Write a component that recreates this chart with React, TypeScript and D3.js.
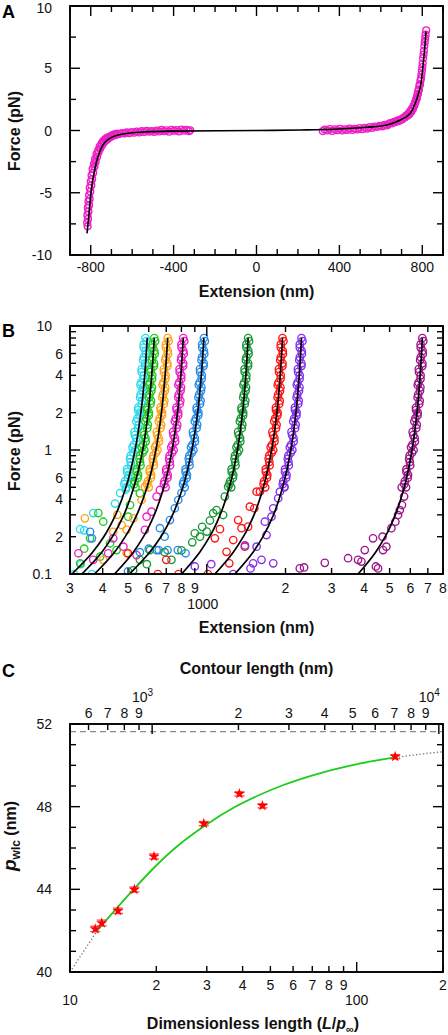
import React from "react";
import * as d3 from "d3";

// ================= Panel A : symmetric force–extension =================
const A_FIT_EXT = [-818, -808, -801, -793, -781, -765, -741, -708, -644, -547, -418, 0, 210, 371, 533, 629, 694, 742, 766, 782, 794, 803, 811, 818];
const A_FIT_F = [-8.26, -6.65, -5.32, -4.24, -3.17, -2.1, -1.16, -0.63, -0.28, -0.12, -0.05, 0, 0.04, 0.1, 0.26, 0.44, 0.84, 1.38, 2.18, 2.99, 3.79, 5.12, 6.47, 7.94];

const A_DATA_LEFT: [number, number][] = [
  [-815, -7.7], [-817, -7.4], [-813, -7.1], [-816, -6.8], [-811, -6.5], [-814, -6.2], [-808, -6.0], [-811, -5.7],
  [-805, -5.5], [-808, -5.2], [-802, -4.9], [-805, -4.6], [-797, -4.4], [-800, -4.1], [-793, -3.9], [-796, -3.6],
  [-788, -3.4], [-791, -3.1], [-782, -2.9], [-785, -2.7], [-776, -2.5], [-779, -2.3], [-769, -2.1], [-772, -1.9],
  [-762, -1.75], [-764, -1.6], [-754, -1.45], [-757, -1.3], [-746, -1.2], [-748, -1.05], [-737, -0.98], [-740, -0.85],
  [-727, -0.8], [-730, -0.7], [-717, -0.68], [-720, -0.58], [-706, -0.55], [-708, -0.48], [-695, -0.45], [-697, -0.38],
  [-684, -0.38], [-686, -0.3], [-672, -0.32], [-674, -0.25], [-662, -0.28], [-650, -0.2], [-638, -0.25], [-626, -0.15],
  [-614, -0.22], [-602, -0.12], [-590, -0.18], [-578, -0.08], [-566, -0.16], [-554, -0.05], [-542, -0.13], [-530, -0.02],
  [-518, -0.1], [-506, -0.04], [-494, -0.12], [-482, 0.0], [-470, -0.08], [-458, 0.05], [-446, -0.06], [-434, 0.02],
  [-422, -0.1], [-410, 0.06], [-398, -0.03], [-386, 0.04], [-374, -0.08], [-362, 0.08], [-350, -0.02], [-338, 0.05],
  [-326, -0.06], [-320, 0.02],
];
const A_DATA_RIGHT: [number, number][] = [
  [320, -0.05], [330, 0.08], [342, 0.0], [354, 0.12], [366, -0.04], [378, 0.1], [390, 0.02], [402, 0.14], [414, 0.0],
  [426, 0.1], [438, 0.05], [450, 0.16], [462, 0.04], [474, 0.14], [486, 0.08], [498, 0.2], [510, 0.1], [522, 0.22],
  [534, 0.15], [546, 0.28], [558, 0.2], [570, 0.32], [582, 0.28], [594, 0.38], [606, 0.33], [618, 0.45], [630, 0.4],
  [638, 0.52], [645, 0.6], [655, 0.58], [664, 0.7], [672, 0.68], [680, 0.8], [688, 0.76], [695, 0.9], [702, 0.88],
  [709, 1.02], [716, 1.05], [722, 1.2], [728, 1.18], [733, 1.35], [738, 1.3], [742, 1.55], [747, 1.5], [751, 1.75],
  [755, 1.72], [758, 1.98], [762, 2.0], [765, 2.25], [768, 2.3], [771, 2.55], [774, 2.6], [776, 2.85], [779, 2.95],
  [781, 3.2], [784, 3.3], [786, 3.6], [789, 3.7], [791, 4.0], [794, 4.2], [796, 4.5], [798, 4.8], [800, 5.1],
  [802, 5.4], [804, 5.8], [806, 6.1], [808, 6.4], [810, 6.8], [812, 7.1], [814, 7.4], [816, 7.7], [819, 8.05],
];
const A_X_LABELS = [-800, -400, 0, 400, 800];
const A_Y_LABELS = [-10, -5, 0, 5, 10];

// ================= Panel B : log–log force–extension =================
const B_FIT_F = [0.1, 0.15, 0.2, 0.3, 0.5, 1, 2, 4, 8];
const B_FIT_CYAN = [305, 366, 404, 448, 491, 532, 560, 579, 592];
const B_FIT_GREEN = [333, 397, 436, 482, 526, 569, 597, 616, 630];
const B_FIT_ORANGE = [372, 444, 488, 540, 591, 639, 671, 693, 709];
const B_FIT_MAGENTA = [444, 524, 573, 630, 685, 737, 773, 796, 813];
const B_FIT_BLUE = [506, 605, 668, 740, 810, 877, 923, 953, 975];
const B_FIT_DKGREEN = [801, 940, 1026, 1125, 1220, 1310, 1370, 1411, 1439];
const B_FIT_RED = [1074, 1263, 1380, 1516, 1646, 1770, 1854, 1909, 1948];
const B_FIT_VIOLET = [1280, 1503, 1640, 1799, 1950, 2095, 2192, 2257, 2302];
const B_FIT_PURPLE = [3788, 4421, 4809, 5258, 5687, 6091, 6363, 6543, 6671];

// dense high-force data: two interleaved force samplings
const B_BAND_F = [8, 7.1, 6.3, 5.6, 5.0, 4.5, 4.0, 3.5, 3.2, 2.8, 2.5, 2.2, 2.0, 1.8, 1.6, 1.4, 1.25, 1.1, 1.0, 0.9, 0.8, 0.7, 0.63, 0.56, 0.5];
const B_BAND_CYAN = [583, 574, 584, 574, 582, 564, 573, 561, 571, 559, 566, 547, 555, 543, 549, 529, 538, 526, 532, 512, 512, 496, 502, 487, 492];
const B_BAND_GREEN = [630, 620, 630, 620, 629, 609, 619, 607, 617, 604, 612, 592, 601, 588, 595, 573, 583, 571, 577, 556, 556, 539, 546, 530, 534];
const B_BAND_ORANGE = [709, 698, 709, 698, 707, 685, 696, 682, 694, 680, 688, 665, 675, 661, 669, 644, 655, 641, 648, 625, 625, 605, 613, 595, 600];
const B_BAND_MAGENTA = [813, 800, 814, 800, 812, 787, 799, 784, 797, 782, 792, 766, 778, 761, 771, 743, 755, 739, 747, 721, 722, 700, 709, 689, 696];
const B_BAND_BLUE = [975, 960, 975, 959, 973, 942, 957, 939, 954, 935, 947, 915, 929, 909, 919, 885, 900, 880, 889, 858, 857, 830, 840, 816, 823];
const B_BAND_DKGREEN = [1439, 1417, 1441, 1418, 1439, 1395, 1417, 1390, 1413, 1386, 1404, 1358, 1378, 1350, 1367, 1318, 1341, 1313, 1328, 1282, 1284, 1245, 1262, 1227, 1240];
const B_BAND_RED = [1948, 1918, 1951, 1919, 1947, 1887, 1917, 1881, 1912, 1875, 1900, 1838, 1865, 1827, 1849, 1782, 1813, 1775, 1795, 1732, 1734, 1681, 1704, 1656, 1672];
const B_BAND_VIOLET = [2302, 2267, 2305, 2268, 2302, 2231, 2266, 2224, 2261, 2217, 2246, 2172, 2205, 2160, 2187, 2108, 2145, 2100, 2124, 2051, 2053, 1991, 2018, 1961, 1981];
const B_BAND_PURPLE = [6671, 6570, 6681, 6574, 6671, 6466, 6569, 6448, 6557, 6430, 6517, 6305, 6401, 6272, 6351, 6125, 6234, 6105, 6176, 5964, 5974, 5797, 5879, 5717, 5778];

const B_BAND2_F = [7.55, 6.7, 5.95, 5.3, 4.75, 4.25, 3.75, 3.35, 3.0, 2.65, 2.35, 2.1, 1.9, 1.7, 1.5, 1.32, 1.17, 1.05, 0.95, 0.85, 0.75, 0.665, 0.595, 0.53];
const B_BAND2_CYAN = [588, 574, 585, 571, 582, 564, 572, 558, 568, 556, 563, 547, 554, 538, 546, 531, 539, 520, 524, 509, 514, 496, 500, 484];
const B_BAND2_GREEN = [635, 620, 632, 617, 628, 610, 618, 603, 614, 601, 609, 592, 600, 583, 592, 576, 584, 564, 569, 553, 558, 539, 544, 527];
const B_BAND2_ORANGE = [715, 698, 711, 694, 707, 686, 695, 678, 691, 676, 685, 666, 674, 655, 665, 647, 656, 634, 639, 621, 627, 605, 611, 592];
const B_BAND2_MAGENTA = [820, 801, 816, 797, 812, 788, 799, 779, 794, 778, 788, 767, 777, 755, 766, 746, 757, 731, 737, 718, 724, 700, 707, 686];
const B_BAND2_BLUE = [983, 960, 978, 955, 972, 943, 956, 932, 950, 929, 942, 916, 927, 900, 914, 889, 901, 870, 876, 853, 859, 830, 837, 811];
const B_BAND2_DKGREEN = [1451, 1418, 1445, 1411, 1438, 1396, 1415, 1381, 1408, 1378, 1397, 1359, 1376, 1338, 1360, 1325, 1344, 1298, 1310, 1276, 1288, 1246, 1258, 1221];
const B_BAND2_RED = [1964, 1919, 1955, 1910, 1946, 1889, 1915, 1868, 1905, 1865, 1891, 1839, 1863, 1811, 1839, 1792, 1816, 1755, 1770, 1724, 1739, 1682, 1698, 1648];
const B_BAND2_VIOLET = [2321, 2268, 2311, 2258, 2300, 2234, 2264, 2209, 2252, 2205, 2236, 2175, 2202, 2141, 2176, 2119, 2149, 2077, 2095, 2040, 2059, 1991, 2011, 1952];
const B_BAND2_PURPLE = [6727, 6573, 6697, 6544, 6667, 6475, 6564, 6405, 6532, 6396, 6488, 6312, 6393, 6217, 6319, 6158, 6246, 6037, 6091, 5936, 5995, 5800, 5861, 5691];

// sparse low-force data [extension nm, force pN]
const B_LOW_CYAN: [number, number][] = [[311, 0.1], [330, 0.12], [364, 0.1], [328, 0.23], [340, 0.225], [368, 0.31], [446, 0.37], [466, 0.45], [490, 0.48], [516, 0.54]];
const B_LOW_GREEN: [number, number][] = [[328, 0.122], [340, 0.16], [358, 0.194], [385, 0.31], [391, 0.138], [402, 0.264], [427, 0.177], [452, 0.156], [501, 0.29], [509, 0.36], [555, 0.447]];
const B_LOW_ORANGE: [number, number][] = [[342, 0.281], [402, 0.13], [439, 0.219], [455, 0.3], [473, 0.248], [494, 0.227], [494, 0.147], [524, 0.281], [563, 0.395], [580, 0.506]];
const B_LOW_MAGENTA: [number, number][] = [[323, 0.147], [368, 0.13], [420, 0.147], [439, 0.194], [480, 0.166], [539, 0.142], [580, 0.227], [589, 0.29], [615, 0.318], [643, 0.421], [662, 0.476]];
const B_LOW_BLUE: [number, number][] = [[358, 0.219], [364, 0.194], [500, 0.105], [555, 0.15], [600, 0.16], [643, 0.156], [655, 0.156], [662, 0.234], [690, 0.2], [708, 0.156], [723, 0.272], [755, 0.339], [775, 0.156], [778, 0.395], [800, 0.45], [830, 0.147]];
const B_LOW_DKGREEN: [number, number][] = [[523, 0.107], [555, 0.13], [590, 0.12], [606, 0.156], [690, 0.15], [733, 0.13], [800, 0.155], [880, 0.18], [900, 0.213], [942, 0.2], [960, 0.24], [1000, 0.22], [1028, 0.27], [1058, 0.309], [1090, 0.328], [1155, 0.299], [1172, 0.421], [1207, 0.506]];
const B_LOW_RED: [number, number][] = [[500, 0.147], [650, 0.1], [700, 0.13], [780, 0.1], [1010, 0.1], [1074, 0.194], [1123, 0.23], [1190, 0.151], [1219, 0.122], [1262, 0.188], [1318, 0.272], [1358, 0.234], [1398, 0.166], [1439, 0.241], [1461, 0.349], [1520, 0.339], [1550, 0.461], [1597, 0.461]];
const B_LOW_VIOLET: [number, number][] = [[900, 0.115], [1040, 0.12], [1262, 0.1], [1400, 0.17], [1470, 0.111], [1504, 0.122], [1550, 0.166], [1619, 0.13], [1667, 0.264], [1692, 0.206], [1768, 0.29], [1795, 0.339], [1795, 0.122], [1875, 0.408], [1904, 0.461], [1980, 0.506]];
const B_LOW_PURPLE: [number, number][] = [[2268, 0.111], [2355, 0.113], [2826, 0.123], [3469, 0.134], [3787, 0.13], [3900, 0.126], [4017, 0.156], [4322, 0.194], [4430, 0.115], [4516, 0.111], [4700, 0.2], [4718, 0.156], [4860, 0.166], [5080, 0.234], [5260, 0.264], [5385, 0.299], [5470, 0.328], [5560, 0.5], [5574, 0.36], [5680, 0.421]];

const B_COLORS = ["#2cd9ee", "#22c922", "#ffa31a", "#ee1fc6", "#268cec", "#1c9838", "#ff1414", "#8530ee", "#9e168c"];
const B_Y_MAJOR_LABELS = [0.1, 1, 10];
const B_Y_MINOR_LABELS = [0.2, 0.4, 0.6, 2, 4, 6];
const B_X_MINOR_LABELS = [300, 400, 500, 600, 700, 800, 900, 2000, 3000, 4000, 5000, 6000, 7000, 8000];
const B_X_MAJOR_LABELS = [1000];

// ================= Panel C : persistence length vs length =================
const C_DIMLESS = [12.25, 12.9, 14.71, 16.77, 19.64, 29.29, 38.98, 46.92, 136.2];
const C_PWLC = [42.08, 42.37, 42.96, 43.99, 45.59, 47.18, 48.62, 48.04, 50.42];
const C_ERR = [0.13, 0.14, 0.13, 0.12, 0.12, 0.1, 0.1, 0.1, 0.1];
const C_FIT_D = [12.45, 13.76, 16.82, 19.75, 23.82, 29.52, 37.57, 45.32, 55.53, 72.63, 94.9, 136.2];
const C_FIT_P = [42.0, 42.7, 44.06, 45.08, 46.12, 47.08, 47.98, 48.54, 49.05, 49.58, 49.99, 50.38];
const C_EXTRAP_LEFT_D = [10, 12.45];
const C_EXTRAP_LEFT_P = [40, 42.0];
const C_EXTRAP_RIGHT_D = [136.2, 165, 200];
const C_EXTRAP_RIGHT_P = [50.38, 50.53, 50.66];
const C_P_INF = 51.7;
const C_DASH_LEVEL = 51.63;
const C_Y_LABELS = [40, 44, 48, 52];
const C_X_MINOR_LABELS = [20, 30, 40, 50, 60, 70, 80, 90, 200];
const C_X_MAJOR_LABELS = [10, 100];
const C_TOP_MINOR_LABELS = [600, 700, 800, 900, 2000, 3000, 4000, 5000, 6000, 7000, 8000, 9000];
const C_TOP_MAJOR_LABELS = [1000, 10000];

// ================= drawing =================
const FONT = "'Liberation Sans', Arial, Helvetica, sans-serif";
const X0 = 70;
const X1 = 443;
const MAJ = 10;
const MIN = 6;

type Tk = { p: number; major: boolean };

function Box({ top, bottom, bottomTicks, topTicks, sideTicks }: { top: number; bottom: number; bottomTicks: Tk[]; topTicks: Tk[]; sideTicks: Tk[] }) {
  return (
    <g stroke="#000" fill="none">
      {bottomTicks.map((t, i) => (
        <line key={"b" + i} x1={t.p} x2={t.p} y1={bottom} y2={bottom - (t.major ? MAJ : MIN)} strokeWidth={1.4} />
      ))}
      {topTicks.map((t, i) => (
        <line key={"t" + i} x1={t.p} x2={t.p} y1={top} y2={top + (t.major ? MAJ : MIN)} strokeWidth={1.4} />
      ))}
      {sideTicks.map((t, i) => (
        <line key={"l" + i} x1={X0} x2={X0 + (t.major ? MAJ : MIN)} y1={t.p} y2={t.p} strokeWidth={1.4} />
      ))}
      {sideTicks.map((t, i) => (
        <line key={"r" + i} x1={X1} x2={X1 - (t.major ? MAJ : MIN)} y1={t.p} y2={t.p} strokeWidth={1.4} />
      ))}
      <rect x={X0} y={top} width={X1 - X0} height={bottom - top} strokeWidth={1.9} />
    </g>
  );
}

const lead = (v: number) => String(Math.round(v / Math.pow(10, Math.floor(Math.log10(v) + 1e-9))));
const isPow10 = (v: number) => Math.abs(Math.log10(v) - Math.round(Math.log10(v))) < 1e-6;

export default function App() {
  // ---- scales
  const xA = d3.scaleLinear().domain([-900, 900]).range([X0, X1]);
  const yA = d3.scaleLinear().domain([-10, 10]).range([255, 6]);
  const xB = d3.scaleLog().domain([300, 8000]).range([X0, X1]);
  const yB = d3.scaleLog().domain([0.1, 10]).range([574, 326]);
  const xC = d3.scaleLog().domain([10, 200]).range([X0, X1]);
  const xCtop = d3.scaleLog().domain([10 * C_P_INF, 200 * C_P_INF]).range([X0, X1]);
  const yC = d3.scaleLinear().domain([40, 52]).range([972, 724]);

  // ---- ticks
  const aX: Tk[] = d3.range(-900, 901, 100).map((v) => ({ p: xA(v), major: v % 400 === 0 }));
  const aY: Tk[] = d3.range(-10, 10.01, 2.5).map((v) => ({ p: yA(v), major: v % 5 === 0 }));
  const bX: Tk[] = xB.ticks().map((v) => ({ p: xB(v), major: isPow10(v) }));
  const bY: Tk[] = yB.ticks().map((v) => ({ p: yB(v), major: isPow10(v) }));
  const cX: Tk[] = xC.ticks().map((v) => ({ p: xC(v), major: isPow10(v) }));
  const cTop: Tk[] = xCtop.ticks().map((v) => ({ p: xCtop(v), major: isPow10(v) }));
  const cY: Tk[] = d3.range(40, 52.01, 1).map((v) => ({ p: yC(v), major: v % 4 === 0 }));

  // ---- lines
  const lineA = d3.line<[number, number]>().x((d) => xA(d[0])).y((d) => yA(d[1])).curve(d3.curveMonotoneX);
  const lineB = d3.line<[number, number]>().x((d) => xB(d[0])).y((d) => yB(d[1])).curve(d3.curveMonotoneY);
  const lineC = d3.line<[number, number]>().x((d) => xC(d[0])).y((d) => yC(d[1])).curve(d3.curveMonotoneX);

  const aFit: [number, number][] = A_FIT_EXT.map((x, i) => [x, A_FIT_F[i]]);

  const bSeries = [
    { color: B_COLORS[0], fit: B_FIT_CYAN, band: B_BAND_CYAN, band2: B_BAND2_CYAN, low: B_LOW_CYAN },
    { color: B_COLORS[1], fit: B_FIT_GREEN, band: B_BAND_GREEN, band2: B_BAND2_GREEN, low: B_LOW_GREEN },
    { color: B_COLORS[2], fit: B_FIT_ORANGE, band: B_BAND_ORANGE, band2: B_BAND2_ORANGE, low: B_LOW_ORANGE },
    { color: B_COLORS[3], fit: B_FIT_MAGENTA, band: B_BAND_MAGENTA, band2: B_BAND2_MAGENTA, low: B_LOW_MAGENTA },
    { color: B_COLORS[4], fit: B_FIT_BLUE, band: B_BAND_BLUE, band2: B_BAND2_BLUE, low: B_LOW_BLUE },
    { color: B_COLORS[5], fit: B_FIT_DKGREEN, band: B_BAND_DKGREEN, band2: B_BAND2_DKGREEN, low: B_LOW_DKGREEN },
    { color: B_COLORS[6], fit: B_FIT_RED, band: B_BAND_RED, band2: B_BAND2_RED, low: B_LOW_RED },
    { color: B_COLORS[7], fit: B_FIT_VIOLET, band: B_BAND_VIOLET, band2: B_BAND2_VIOLET, low: B_LOW_VIOLET },
    { color: B_COLORS[8], fit: B_FIT_PURPLE, band: B_BAND_PURPLE, band2: B_BAND2_PURPLE, low: B_LOW_PURPLE },
  ];

  const cFit: [number, number][] = C_FIT_D.map((d, i) => [d, C_FIT_P[i]]);
  const cLeft: [number, number][] = C_EXTRAP_LEFT_D.map((d, i) => [d, C_EXTRAP_LEFT_P[i]]);
  const cRight: [number, number][] = C_EXTRAP_RIGHT_D.map((d, i) => [d, C_EXTRAP_RIGHT_P[i]]);
  const star = d3.symbol(d3.symbolStar, 38)() as string;

  const tick = { fontFamily: FONT, fontSize: 14, fill: "#111" } as const;
  const title = { fontFamily: FONT, fontSize: 16, fontWeight: 700, fill: "#111" } as const;
  const panel = { fontFamily: FONT, fontSize: 18, fontWeight: 700, fill: "#000" } as const;

  return (
    <svg width={448} height={1035} style={{ position: "absolute", left: 0, top: 0, background: "#fff" }}>
      <defs>
        <clipPath id="clipA"><rect x={X0} y={6} width={X1 - X0} height={249} /></clipPath>
        <clipPath id="clipB"><rect x={X0} y={326} width={X1 - X0} height={248} /></clipPath>
        <clipPath id="clipC"><rect x={X0} y={724} width={X1 - X0} height={248} /></clipPath>
      </defs>
      <rect x={0} y={0} width={448} height={1035} fill="#fff" />

      {/* ================= Panel A ================= */}
      <g clipPath="url(#clipA)">
        {[...A_DATA_LEFT, ...A_DATA_RIGHT].map((d, i) => (
          <circle key={i} cx={xA(d[0])} cy={yA(d[1])} r={3.4} fill="none" stroke="#ee1fc6" strokeWidth={1.4} />
        ))}
        <path d={lineA(aFit) || ""} fill="none" stroke="#000" strokeWidth={1.6} />
      </g>
      <Box top={6} bottom={255} bottomTicks={aX} topTicks={aX} sideTicks={aY} />
      {A_Y_LABELS.map((v) => (
        <text key={v} x={52} y={Math.max(yA(v) + 5, 13)} textAnchor="end" {...tick}>{v}</text>
      ))}
      {A_X_LABELS.map((v) => (
        <text key={v} x={xA(v)} y={272} textAnchor="middle" {...tick}>{v}</text>
      ))}
      <text x={256.5} y={297} textAnchor="middle" {...title}>Extension (nm)</text>
      <text transform="translate(20,131) rotate(-90)" textAnchor="middle" {...title}>Force (pN)</text>
      <text x={2} y={17.5} {...panel}>A</text>

      {/* ================= Panel B ================= */}
      <g clipPath="url(#clipB)">
        {bSeries.map((s, si) => (
          <g key={si} fill="none" stroke={s.color} strokeWidth={1.35}>
            {s.low.map((d, i) => (
              <circle key={"l" + i} cx={xB(d[0])} cy={yB(d[1])} r={3.7} />
            ))}
            {s.band.map((x, i) => (
              <circle key={"b" + i} cx={xB(x)} cy={yB(B_BAND_F[i])} r={3.7} />
            ))}
            {s.band2.map((x, i) => (
              <circle key={"c" + i} cx={xB(x)} cy={yB(B_BAND2_F[i])} r={3.7} />
            ))}
          </g>
        ))}
        {bSeries.map((s, si) => (
          <path key={si} d={lineB(B_FIT_F.map((f, i) => [s.fit[i], f] as [number, number])) || ""} fill="none" stroke="#000" strokeWidth={1.7} />
        ))}
      </g>
      <Box top={326} bottom={574} bottomTicks={bX} topTicks={bX} sideTicks={bY} />
      {B_Y_MAJOR_LABELS.map((v) => (
        <text key={v} x={52} y={yB(v) + 5} textAnchor="end" {...tick}>{v}</text>
      ))}
      {B_Y_MINOR_LABELS.map((v) => (
        <text key={v} x={63} y={yB(v) + 5} textAnchor="end" {...tick}>{lead(v)}</text>
      ))}
      {B_X_MINOR_LABELS.map((v) => (
        <text key={v} x={xB(v)} y={593} textAnchor="middle" {...tick}>{lead(v)}</text>
      ))}
      {B_X_MAJOR_LABELS.map((v) => (
        <text key={v} x={xB(v) - 4} y={609} textAnchor="middle" {...tick}>{v}</text>
      ))}
      <text x={256.5} y={633} textAnchor="middle" {...title}>Extension (nm)</text>
      <text transform="translate(20,451) rotate(-90)" textAnchor="middle" {...title}>Force (pN)</text>
      <text x={2} y={337} {...panel}>B</text>

      {/* ================= Panel C ================= */}
      <line x1={X0} x2={X1} y1={yC(C_DASH_LEVEL)} y2={yC(C_DASH_LEVEL)} stroke="#8a8a8a" strokeWidth={1.3} strokeDasharray="6,4" />
      <g clipPath="url(#clipC)">
        <path d={lineC(cLeft) || ""} fill="none" stroke="#777" strokeWidth={1.3} strokeDasharray="1.3,2.2" />
        <path d={lineC(cRight) || ""} fill="none" stroke="#777" strokeWidth={1.3} strokeDasharray="1.3,2.2" />
        <path d={lineC(cFit) || ""} fill="none" stroke="#1ccc1c" strokeWidth={1.8} />
        {C_DIMLESS.map((d, i) => {
          const cx = xC(d);
          const cy = yC(C_PWLC[i]);
          const y1 = yC(C_PWLC[i] + C_ERR[i]);
          const y2 = yC(C_PWLC[i] - C_ERR[i]);
          return (
            <g key={i}>
              <g stroke="#ff3030" strokeWidth={1.4} opacity={0.85}>
                <line x1={cx} x2={cx} y1={y1} y2={y2} />
                <line x1={cx - 5} x2={cx + 5} y1={y1} y2={y1} />
                <line x1={cx - 5} x2={cx + 5} y1={y2} y2={y2} />
              </g>
              <path d={star} transform={`translate(${cx},${cy})`} fill="#ff0000" />
            </g>
          );
        })}
      </g>
      <Box top={724} bottom={972} bottomTicks={cX} topTicks={cTop} sideTicks={cY} />
      {C_Y_LABELS.map((v) => (
        <text key={v} x={52} y={yC(v) + 5} textAnchor="end" {...tick}>{v}</text>
      ))}
      {C_X_MINOR_LABELS.map((v) => (
        <text key={v} x={xC(v)} y={989.5} textAnchor="middle" {...tick}>{lead(v)}</text>
      ))}
      {C_X_MAJOR_LABELS.map((v) => (
        <text key={v} x={xC(v)} y={1004.5} textAnchor="middle" {...tick}>{v}</text>
      ))}
      {C_TOP_MINOR_LABELS.map((v) => (
        <text key={v} x={xCtop(v)} y={718} textAnchor="middle" {...tick}>{lead(v)}</text>
      ))}
      {C_TOP_MAJOR_LABELS.map((v) => (
        <text key={v} x={xCtop(v) + 1} y={702} textAnchor="end" {...tick}>
          10<tspan dy={-6} fontSize={10}>{Math.round(Math.log10(v))}</tspan>
        </text>
      ))}
      <text x={256.5} y={674} textAnchor="middle" {...title}>Contour length (nm)</text>
      <text x={253} y={1029} textAnchor="middle" {...title}>
        Dimensionless length (<tspan fontStyle="italic">L</tspan>/<tspan fontStyle="italic">p</tspan>
        <tspan fontSize={11} dy={4}>∞</tspan>
        <tspan dy={-4}>)</tspan>
      </text>
      <text transform="translate(16,836) rotate(-90)" textAnchor="middle" {...title}>
        <tspan fontStyle="italic" fontSize={19}>p</tspan>
        <tspan fontSize={12} dy={4}>wlc</tspan>
        <tspan dy={-4}> (nm)</tspan>
      </text>
      <text x={2} y={677} {...panel}>C</text>
    </svg>
  );
}
